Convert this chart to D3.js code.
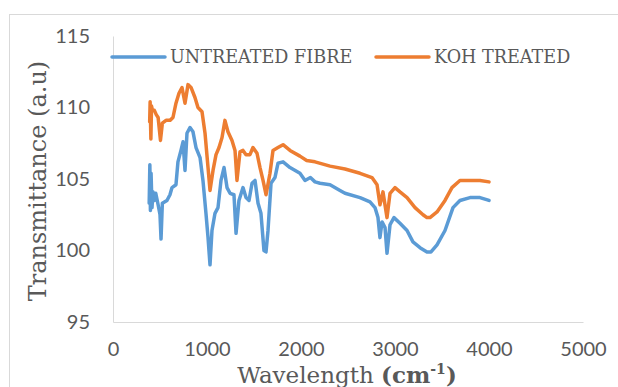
<!DOCTYPE html>
<html>
<head>
<meta charset="utf-8">
<script src="https://cdn.jsdelivr.net/npm/d3@7"></script>
<style>
  body { margin: 0; background: #fff; }
  svg { display: block; }
</style>
</head>
<body>
<svg id="chart"></svg>
<script>
// wavenumber (cm-1) and transmittance readings, per series
const untreatedX = [385, 392, 398, 405, 415, 425, 440, 455, 480, 500, 511, 525, 574, 606, 628, 670, 691, 723, 745, 766, 787, 819, 851, 883, 926, 957, 989, 1011, 1032, 1053, 1085, 1117, 1149, 1181, 1213, 1245, 1287, 1309, 1340, 1383, 1415, 1447, 1479, 1511, 1543, 1574, 1606, 1628, 1649, 1681, 1723, 1755, 1809, 1883, 1989, 2043, 2100, 2149, 2202, 2309, 2415, 2468, 2628, 2734, 2787, 2819, 2840, 2862, 2894, 2915, 2947, 2989, 3053, 3128, 3191, 3266, 3340, 3383, 3447, 3532, 3617, 3691, 3798, 3904, 4000];
const untreatedY = [103.3, 106.0, 102.8, 105.4, 103.0, 104.1, 103.5, 104.0, 103.2, 102.5, 100.8, 103.3, 103.5, 103.9, 104.4, 104.6, 106.2, 107.0, 107.6, 105.6, 108.2, 108.6, 108.3, 107.2, 106.5, 104.9, 102.6, 100.9, 99.0, 101.4, 102.6, 103.0, 104.9, 105.8, 104.4, 104.0, 103.9, 101.2, 103.5, 104.4, 103.7, 103.5, 104.7, 104.9, 103.3, 102.6, 100.0, 99.9, 101.4, 104.7, 105.1, 106.1, 106.2, 105.8, 105.4, 104.9, 105.1, 104.8, 104.7, 104.6, 104.2, 104.0, 103.7, 103.4, 103.0, 102.3, 100.9, 102.0, 101.6, 99.8, 101.8, 102.3, 101.9, 101.4, 100.6, 100.2, 99.9, 99.9, 100.4, 101.4, 103.0, 103.5, 103.7, 103.7, 103.5];

const kohX = [390, 395, 403, 410, 420, 440, 460, 480, 505, 525, 564, 606, 638, 670, 702, 734, 766, 798, 830, 872, 904, 947, 979, 1011, 1032, 1064, 1096, 1128, 1160, 1191, 1223, 1266, 1298, 1319, 1351, 1383, 1415, 1457, 1489, 1532, 1564, 1596, 1628, 1670, 1702, 1755, 1809, 1883, 1989, 2060, 2149, 2309, 2468, 2628, 2755, 2809, 2840, 2872, 2915, 2947, 3000, 3053, 3128, 3213, 3298, 3340, 3372, 3447, 3532, 3606, 3691, 3798, 3904, 4000];
const kohY = [109.0, 110.4, 107.8, 110.1, 109.8, 109.8, 109.5, 109.3, 107.7, 108.9, 109.1, 109.1, 109.3, 110.3, 111.0, 111.4, 110.3, 111.6, 111.4, 110.7, 110.0, 109.7, 108.2, 105.8, 104.2, 105.6, 106.7, 107.2, 107.9, 109.1, 108.3, 107.7, 107.0, 104.9, 106.9, 107.0, 106.7, 106.7, 107.2, 106.8, 105.8, 104.9, 103.9, 105.4, 107.0, 107.2, 107.4, 107.0, 106.6, 106.3, 106.2, 105.9, 105.7, 105.4, 105.1, 104.6, 103.2, 104.1, 102.3, 104.0, 104.4, 104.1, 103.7, 103.0, 102.5, 102.3, 102.3, 102.7, 103.5, 104.4, 104.9, 104.9, 104.9, 104.8];

const xTicks = [0, 1000, 2000, 3000, 4000, 5000];
const yTicks = [95, 100, 105, 110, 115];

const seriesNames = ["UNTREATED FIBRE", "KOH TREATED"];
const seriesColors = ["#5B9BD5", "#ED7D31"];

const width = 618, height = 387;
const margin = { top: 36, right: 35, bottom: 65, left: 113 };

const svg = d3.select("#chart")
    .attr("width", width)
    .attr("height", height);

// outer chart border
svg.append("rect")
    .attr("x", 9.5)
    .attr("y", 14.5)
    .attr("width", 640)
    .attr("height", 400)
    .attr("fill", "none")
    .attr("stroke", "#d9d9d9")
    .attr("stroke-width", 1);

const xScale = d3.scaleLinear()
    .domain([0, 5000])
    .range([margin.left, width - margin.right]);

const yScale = d3.scaleLinear()
    .domain([95, 115])
    .range([height - margin.bottom, margin.top]);

// x axis
const xAxis = svg.append("g")
    .attr("transform", `translate(0, ${yScale(95)})`)
    .call(d3.axisBottom(xScale).tickValues(xTicks).tickFormat(d3.format("d")).tickSize(0).tickPadding(20));

// y axis
const yAxis = svg.append("g")
    .attr("transform", `translate(${xScale(0)}, 0)`)
    .call(d3.axisLeft(yScale).tickValues(yTicks).tickSize(0).tickPadding(23));

[xAxis, yAxis].forEach(ax => {
    ax.select(".domain").attr("stroke", "#d9d9d9").attr("stroke-width", 1);
    ax.selectAll("text")
        .attr("fill", "#595959")
        .style("font-family", "Lato, 'Open Sans', sans-serif")
        .style("font-size", "20px");
});

// lines
const line = d3.line()
    .x(d => xScale(d[0]))
    .y(d => yScale(d[1]));

const series = [
    d3.zip(untreatedX, untreatedY),
    d3.zip(kohX, kohY)
];

series.forEach((pts, i) => {
    svg.append("path")
        .datum(pts)
        .attr("fill", "none")
        .attr("stroke", seriesColors[i])
        .attr("stroke-width", 3.5)
        .attr("stroke-linejoin", "round")
        .attr("stroke-linecap", "round")
        .attr("d", line);
});

// legend
const legendX = [112, 376];
seriesNames.forEach((name, i) => {
    const g = svg.append("g").attr("transform", `translate(${legendX[i]}, 57)`);
    g.append("line")
        .attr("x1", 0).attr("x2", 53)
        .attr("stroke", seriesColors[i])
        .attr("stroke-width", 3.5)
        .attr("stroke-linecap", "round");
    g.append("text")
        .attr("x", 58)
        .attr("y", 0)
        .attr("dy", "0.36em")
        .attr("fill", "#595959")
        .style("font-family", "'DejaVu Serif', serif")
        .style("font-size", "17.6px")
        .text(name);
});

// axis titles
svg.append("text")
    .attr("transform", `translate(46, 181) rotate(-90)`)
    .attr("text-anchor", "middle")
    .attr("fill", "#595959")
    .style("font-family", "'DejaVu Serif', serif")
    .style("font-size", "24px")
    .text("Transmittance (a.u)");

const xTitle = svg.append("text")
    .attr("x", 347)
    .attr("y", 383)
    .attr("text-anchor", "middle")
    .attr("fill", "#595959")
    .style("font-family", "'DejaVu Serif', serif")
    .style("font-size", "23px");
xTitle.append("tspan").text("Wavelength ");
xTitle.append("tspan").style("font-weight", "bold").text("(cm");
xTitle.append("tspan").style("font-weight", "bold").style("font-size", "14px").attr("dy", "-9").text("-1");
xTitle.append("tspan").style("font-weight", "bold").attr("dy", "9").text(")");
</script>
</body>
</html>
